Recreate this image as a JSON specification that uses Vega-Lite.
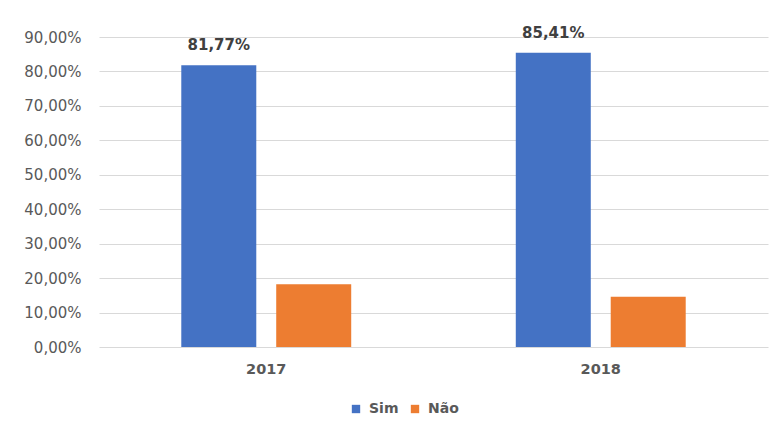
{
  "$schema": "https://vega.github.io/schema/vega-lite/v6.json",
  "autosize": "none",
  "width": 669,
  "height": 310,
  "padding": {"left": 99, "top": 37, "right": 11, "bottom": 84},
  "background": "white",
  "config": {
    "locale": {"number": {"decimal": ",", "thousands": ".", "grouping": [3], "currency": ["R$", ""]}},
    "view": {"stroke": null},
    "font": "DejaVu Sans"
  },
  "data": {
    "values": [
      {"ano": "2017", "resposta": "Sim", "valor": 0.8177},
      {"ano": "2017", "resposta": "Não", "valor": 0.1823},
      {"ano": "2018", "resposta": "Sim", "valor": 0.8541},
      {"ano": "2018", "resposta": "Não", "valor": 0.1459}
    ]
  },
  "encoding": {
    "x": {
      "field": "ano", "type": "nominal",
      "scale": {"paddingInner": 0.492, "paddingOuter": 0.246},
      "axis": {"title": null, "labelAngle": 0, "domain": false, "ticks": false, "labelFontSize": 14.5, "labelFontWeight": "bold", "labelColor": "#595959", "labelPadding": 15}
    },
    "xOffset": {"field": "resposta", "type": "nominal", "scale": {"domain": ["Sim", "Não"], "paddingInner": 0.21, "paddingOuter": 0}},
    "y": {
      "field": "valor", "type": "quantitative",
      "scale": {"domain": [0, 0.9]},
      "axis": {"title": null, "format": ".2%", "values": [0, 0.1, 0.2, 0.3, 0.4, 0.5, 0.6, 0.7, 0.8, 0.9], "domain": false, "ticks": false, "labelFontSize": 15, "labelColor": "#595959", "labelPadding": 18, "gridColor": "#d9d9d9", "gridWidth": 1.2}
    }
  },
  "layer": [
    {
      "mark": {"type": "bar"},
      "encoding": {
        "color": {
          "field": "resposta", "type": "nominal",
          "scale": {"domain": ["Sim", "Não"], "range": ["#4472C4", "#ED7D31"]},
          "legend": {"title": null, "orient": "none", "legendX": 250, "legendY": 365, "direction": "horizontal", "symbolType": "square", "symbolSize": 70, "labelFontSize": 14, "labelFontWeight": "bold", "labelColor": "#595959", "columnPadding": 9, "labelOffset": 6, "symbolStrokeWidth": 0}
        }
      }
    },
    {
      "transform": [{"filter": "datum.resposta === 'Sim'"}],
      "mark": {"type": "text", "dy": -20, "fontSize": 15, "fontWeight": "bold", "color": "#404040"},
      "encoding": {
        "text": {"field": "valor", "type": "quantitative", "format": ".2%"}
      }
    }
  ]
}
